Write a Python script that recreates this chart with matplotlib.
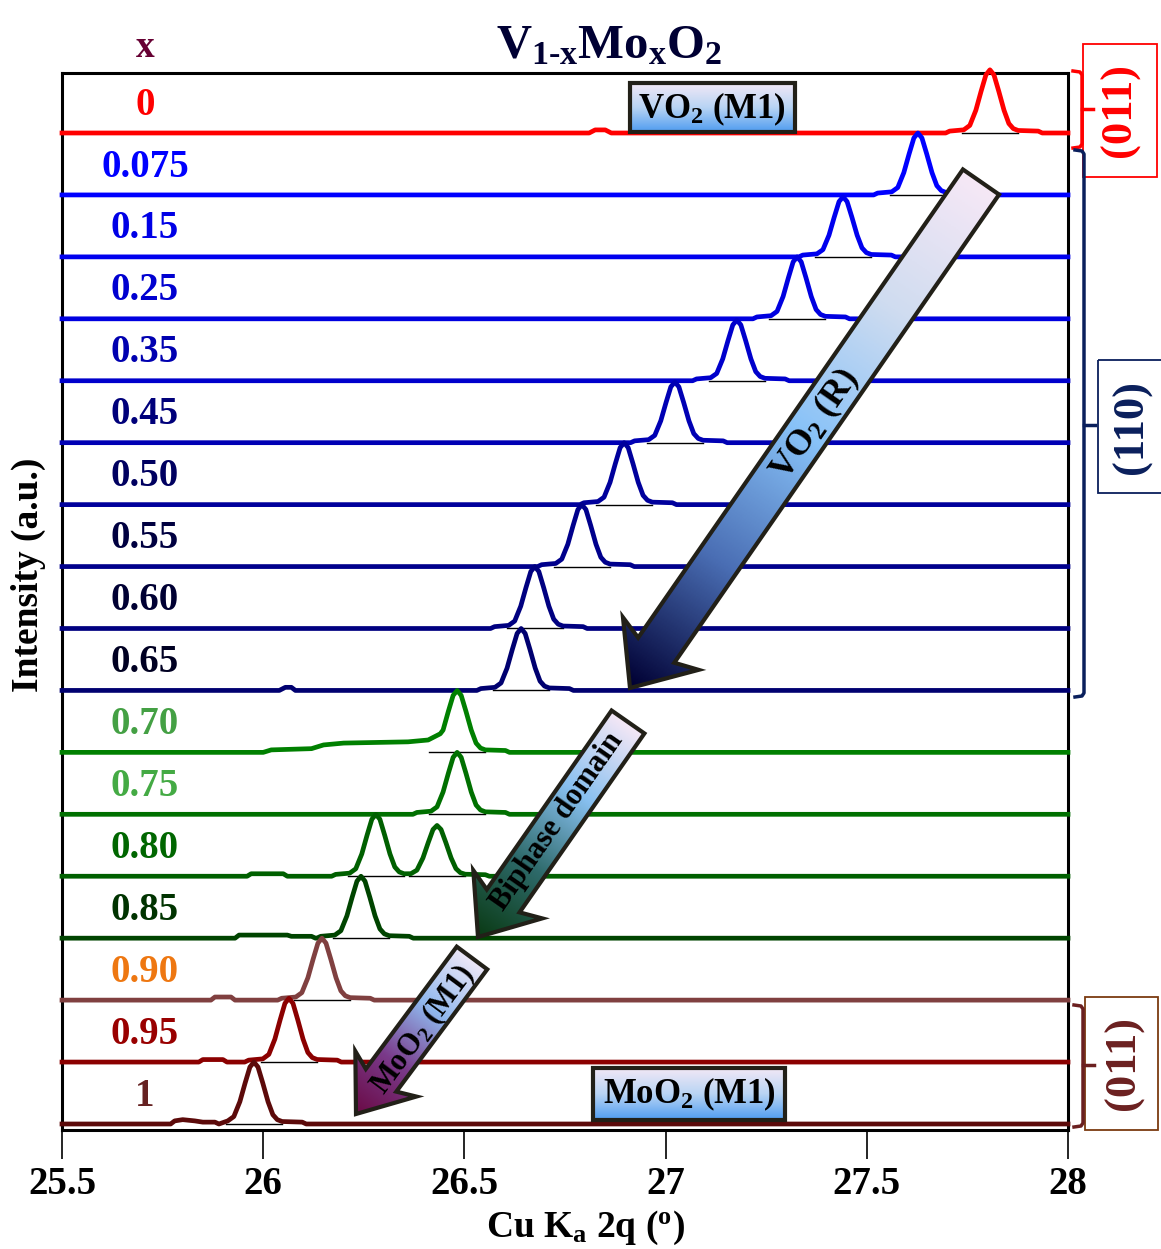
import numpy as np
import matplotlib.pyplot as plt
from matplotlib.patches import Polygon, Rectangle
from matplotlib.colors import LinearSegmentedColormap

plt.rcParams['font.family'] = 'Liberation Serif'
plt.rcParams['font.weight'] = 'bold'
plt.rcParams['mathtext.fontset'] = 'custom'
plt.rcParams['mathtext.rm'] = 'Liberation Serif:bold'
plt.rcParams['mathtext.it'] = 'Liberation Serif:bold'
plt.rcParams['mathtext.bf'] = 'Liberation Serif:bold'

# ---- data ----
compositions = ['0', '0.075', '0.15', '0.25', '0.35', '0.45', '0.50', '0.55', '0.60',
                '0.65', '0.70', '0.75', '0.80', '0.85', '0.90', '0.95', '1']

peak_centers = [[27.806], [27.627], [27.441], [27.327], [27.177], [27.023], [26.897],
                [26.792], [26.675], [26.641], [26.482], [26.482], [26.280, 26.432],
                [26.243], [26.146], [26.064], [25.977]]

peak_heights = [[1.02], [1.0], [0.97], [1.0], [0.98], [0.98], [1.0], [1.0], [1.0], [1.0],
                [1.0], [1.0], [1.0, 0.82], [1.0], [1.0], [1.03], [1.0]]

# common (110)/(011) peak profile, relative to the peak maximum
shape_dx = [-0.11, -0.10, -0.065, -0.05, -0.035, -0.022, -0.01, 0.0, 0.01, 0.022, 0.035,
            0.047, 0.058, 0.07, 0.12, 0.13]
shape_val = [0.0, 0.03, 0.05, 0.12, 0.36, 0.66, 0.92, 1.0, 0.92, 0.66, 0.36, 0.15,
             0.07, 0.04, 0.03, 0.0]

# small bumps / shoulders on the baselines (2theta, relative intensity)
extra_points = [
    [(26.81, 0.0), (26.825, 0.05), (26.85, 0.05), (26.865, 0.0)],
    [], [], [], [], [], [], [], [],
    [(26.04, 0.0), (26.055, 0.05), (26.07, 0.05), (26.08, 0.0)],
    [(26.00, 0.0), (26.02, 0.04), (26.12, 0.06), (26.15, 0.12), (26.20, 0.15),
     (26.28, 0.16), (26.36, 0.17), (26.41, 0.20), (26.44, 0.30)],
    [],
    [(25.96, 0.0), (25.97, 0.04), (26.05, 0.04), (26.06, 0.0)],
    [(25.93, 0.0), (25.94, 0.05), (26.06, 0.05), (26.07, 0.03), (26.12, 0.03), (26.13, 0.0)],
    [(25.87, 0.0), (25.88, 0.05), (25.92, 0.05), (25.93, 0.0)],
    [(25.84, 0.0), (25.85, 0.04), (25.90, 0.04), (25.91, 0.0)],
    [(25.77, 0.0), (25.78, 0.05), (25.80, 0.07), (25.83, 0.05), (25.85, 0.03),
     (25.88, 0.03), (25.89, 0.0)],
]

line_colors = ['#ff0000', '#0000ff', '#0000ee', '#0000e0', '#0000cc', '#0000b4', '#00009c',
               '#00008c', '#000080', '#000070', '#008000', '#007000', '#006000', '#004400',
               '#804040', '#8b0000', '#5c0a0a']
label_colors = ['#ff0000', '#0000ff', '#0000e6', '#0000d0', '#0000b0', '#00007a', '#000060',
                '#000040', '#000033', '#000022', '#44a044', '#44aa44', '#006600', '#003300',
                '#ee7711', '#990000', '#662222']

x_ticks = [25.5, 26, 26.5, 27, 27.5, 28]
x_ticklabels = ['25.5', '26', '26.5', '27', '27.5', '28']


def build_trace(centers, heights, extra):
    pts = [(25.5, 0.0), (28.0, 0.0)] + list(extra)
    lo_ex = min([p[0] for p in extra]) if extra else None
    hi_ex = max([p[0] for p in extra]) if extra else None
    for i, (c, h) in enumerate(zip(centers, heights)):
        lo = (centers[i - 1] + c) / 2 if i > 0 else -1e9
        hi = (centers[i + 1] + c) / 2 if i < len(centers) - 1 else 1e9
        for dx, v in zip(shape_dx, shape_val):
            x = c + dx
            if x < lo or x > hi:
                continue
            if extra and lo_ex <= x <= hi_ex:
                continue
            pts.append((x, v * h))
    pts.sort()
    return np.array([p[0] for p in pts]), np.array([p[1] for p in pts])


W, H = 1161, 1249
fig = plt.figure(figsize=(W / 100, H / 100), dpi=100)
ax = fig.add_axes([62 / W, 1 - 1130 / H, (1068 - 62) / W, (1130 - 73) / H])

n = len(compositions)
for k in range(n):
    base = n - 1 - k
    x, y = build_trace(peak_centers[k], peak_heights[k], extra_points[k])
    ax.plot(x, y + base, color=line_colors[k], lw=3.4, clip_on=False, zorder=3,
            solid_joinstyle='round')
    for c in peak_centers[k]:
        ax.plot([c - 0.07, c + 0.07], [base, base], color='black', lw=1, zorder=2)
    ax.text(25.706, base + 0.45, compositions[k], color=label_colors[k], fontsize=28,
            ha='center', va='center', fontweight='bold')

ax.set_xlim(25.5, 28)
ax.set_ylim(-0.097, n - 1 + 60 / 61.94)
ax.set_yticks([])
ax.set_xticks(x_ticks)
ax.set_xticklabels(x_ticklabels, fontsize=28, fontweight='bold')
ax.tick_params(axis='x', direction='out', length=21, width=1.2, pad=5)
for s in ax.spines.values():
    s.set_linewidth(2.2)

# ---- annotations in pixel coordinates ----
ov = fig.add_axes([0, 0, 1, 1])
ov.set_xlim(0, W)
ov.set_ylim(H, 0)
ov.axis('off')
ov.patch.set_visible(False)


def grad_patch(verts, colors, p0, p1, lw=3, edge='#222018'):
    cmap = LinearSegmentedColormap.from_list('g', colors)
    poly = Polygon(verts, closed=True, facecolor='none', edgecolor=edge, lw=lw, zorder=5,
                   joinstyle='miter')
    ov.add_patch(poly)
    xs = [v[0] for v in verts]
    ys = [v[1] for v in verts]
    x0, x1, y0, y1 = min(xs), max(xs), min(ys), max(ys)
    gx, gy = np.meshgrid(np.linspace(x0, x1, 300), np.linspace(y0, y1, 300))
    d = np.array(p1, float) - np.array(p0, float)
    t = ((gx - p0[0]) * d[0] + (gy - p0[1]) * d[1]) / (d @ d)
    t = np.clip(t, 0, 1)
    im = ov.imshow(t, cmap=cmap, extent=(x0, x1, y1, y0), origin='upper', aspect='auto',
                   zorder=4, vmin=0, vmax=1, interpolation='bilinear')
    im.set_clip_path(poly)
    ov.set_xlim(0, W)
    ov.set_ylim(H, 0)


def arrow_verts(tail, tip, w, hw, hl, sweep=8):
    T = np.array(tail, float)
    P = np.array(tip, float)
    u = (P - T) / np.linalg.norm(P - T)
    nv = np.array([-u[1], u[0]])
    B = P - u * hl
    return [T + nv * w, B + nv * w, B + nv * hw - u * sweep, P,
            B - nv * hw - u * sweep, B - nv * w, T - nv * w]


box_colors = ['#f2e8f6', '#b8d4f4', '#4f9cf0']
grad_patch([(630, 83), (795, 83), (795, 132), (630, 132)], box_colors, (0, 83), (0, 132))
ov.text(712, 109, 'VO$_2$ (M1)', fontsize=25, ha='center', va='center', zorder=6)
grad_patch([(593, 1068), (785, 1068), (785, 1120), (593, 1120)], box_colors,
           (0, 1068), (0, 1120))
ov.text(689, 1094, 'MoO$_2$ (M1)', fontsize=25, ha='center', va='center', zorder=6)

# big arrows
a1 = arrow_verts((981, 182), (630, 688), 22, 46, 46)
grad_patch(a1, ['#f6e8f6', '#cfdcf0', '#88c2f8', '#4a6eb4', '#000033'], (981, 182), (630, 688))
ov.text(815, 425, 'VO$_2$ (R)', fontsize=26, rotation=55.2, ha='center', va='center',
        zorder=6, rotation_mode='anchor')

a2 = arrow_verts((628, 722), (478, 937), 20, 42, 44)
grad_patch(a2, ['#f6e8f6', '#88c0f0', '#2e6a6a', '#0a3a14'], (628, 722), (478, 937))
ov.text(557, 822, 'Biphase domain', fontsize=22, rotation=55.1, ha='center', va='center',
        zorder=6, rotation_mode='anchor')

a3 = arrow_verts((472, 958), (356, 1114), 19, 38, 42)
grad_patch(a3, ['#eee8f8', '#90b8ee', '#7a3a8a', '#6a0a45'], (472, 958), (356, 1114))
ov.text(423, 1030, 'MoO$_2$ (M1)', fontsize=22, rotation=53.4, ha='center', va='center',
        zorder=6, rotation_mode='anchor')


# right-hand brackets with (hkl) boxes
def bracket(x, y0, y1, ym, color):
    ov.plot([x - 9, x - 2, x, x, x - 2, x - 9],
            [y0, y0 + 1, y0 + 4, y1 - 4, y1 - 1, y1], color=color, lw=2.5,
            solid_joinstyle='round')
    ov.plot([x, x + 11], [ym, ym], color=color, lw=2.5)


bracket(1082, 71, 148, 109, '#ff0000')
ov.add_patch(Rectangle((1083, 44), 74, 133, fill=False, edgecolor='#ff0000', lw=1.3))
ov.text(1120, 110, '(011)', color='#ff0000', fontsize=32, rotation=90, ha='center',
        va='center')

bracket(1084, 150, 697, 425, '#0a1f5c')
ov.add_patch(Rectangle((1098, 360), 80, 133, fill=False, edgecolor='#0a1f5c', lw=1.3,
                       clip_on=False))
ov.text(1132, 427, '(110)', color='#0a1f5c', fontsize=32, rotation=90, ha='center',
        va='center')

bracket(1083, 1005, 1127, 1065, '#6b2020')
ov.add_patch(Rectangle((1085, 997), 73, 133, fill=False, edgecolor='#7b3a10', lw=1.3))
ov.text(1124, 1063, '(011)', color='#6b2020', fontsize=32, rotation=90, ha='center',
        va='center')

# titles and axis labels
ov.text(609, 58, r'V$_{1\text{-}x}$Mo$_x$O$_2$', fontsize=35, color='#000033',
        ha='center', va='baseline')
ov.text(145, 57, 'x', fontsize=27, color='#660033', ha='center', va='baseline')
ov.text(28, 575, 'Intensity (a.u.)', fontsize=27, rotation=90, ha='center', va='center')
ov.text(585, 1228, r'Cu K$_a$ 2q ($^o$)', fontsize=27, ha='center', va='center')

fig.savefig('out.png', dpi=100)
